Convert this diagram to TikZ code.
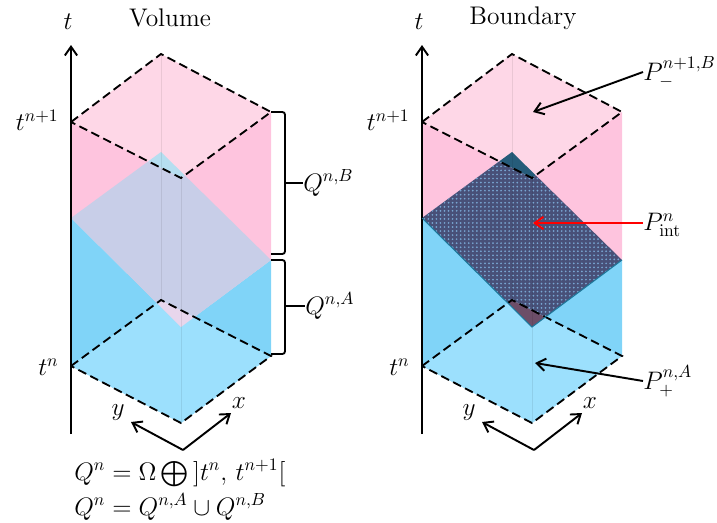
\documentclass[tikz,border=0pt]{standalone}
\usepackage{amsmath}
\usetikzlibrary{positioning,arrows.meta,patterns.meta}
\definecolor{PinkTop}{RGB}{254,215,231}
\definecolor{PinkSide}{RGB}{254,196,222}
\definecolor{BlueSide}{RGB}{128,212,248}
\definecolor{BlueBot}{RGB}{156,224,253}
\definecolor{Lav}{RGB}{200,206,232}
\definecolor{Dark}{RGB}{72,80,120}
\definecolor{Dot}{RGB}{120,165,210}
\definecolor{EdgeTeal}{RGB}{30,120,155}
\definecolor{TipTopL}{RGB}{182,222,240}
\definecolor{TipBotL}{RGB}{232,214,236}
\definecolor{TipTopR}{RGB}{38,92,122}
\definecolor{TipBotR}{RGB}{108,78,104}
\begin{document}
\begin{tikzpicture}[x=.02cm,y=-.02cm,
 ax/.style={-{Straight Barb[length=5pt,width=7pt]},line width=1.1pt},
 dd/.style={dash pattern=on 5pt off 2.6pt,line width=1.05pt},
 v/.style={line width=.3pt,black,opacity=.08},
 brk/.style={line width=1.05pt,rounded corners=1.5pt},
 lab/.style={inner sep=0pt,font=\fontsize{14.5}{16}\selectfont},
 midL/.style={fill=Lav},
 midR/.style={fill=Dark,postaction={pattern={Dots[distance=2.3pt,radius=.55pt]},pattern color=Dot}},
 tipaL/.style={fill=TipTopL},
 tipbL/.style={fill=TipBotL},
 tipaR/.style={fill=TipTopR},
 tipbR/.style={fill=TipBotR}]
\useasboundingbox (0,0) rectangle (717,522);
\foreach \p/\dx in {L/0,R/351}{
\begin{scope}[shift={(\dx,0)}]
\coordinate (\p tl) at (71,122);\coordinate (\p tb) at (161,54);\coordinate (\p tr) at (271,112);\coordinate (\p tf) at (181,178);
\coordinate (\p ml) at (71,218);\coordinate (\p mb) at (161,152);\coordinate (\p mr) at (271,260);\coordinate (\p mf) at (181,327);
\coordinate (\p bl) at (71,366);\coordinate (\p bb) at (161,300);\coordinate (\p br) at (271,356);\coordinate (\p bf) at (181,423);
\coordinate (\p ay) at (71,45);\coordinate (\p az) at (71,434);
\coordinate (\p c) at (183,450);\coordinate (\p cy) at (131,422);\coordinate (\p cx) at (231,413);
\fill[PinkSide] (\p tl)--(\p tf)--(\p tr)--(\p mr)--(\p mf)--(\p ml)--cycle;
\fill[BlueSide] (\p ml)--(\p mf)--(\p mr)--(\p br)--(\p bf)--(\p bl)--cycle;
\path[mid\p] (\p ml)--(\p mb)--(\p mr)--(\p mf)--cycle;
\fill[PinkTop] (\p tl)--(\p tb)--(\p tr)--(\p tf)--cycle;
\fill[BlueBot] (\p bl)--(\p bb)--(\p br)--(\p bf)--cycle;
\begin{scope}
\clip (\p tl)--(\p tb)--(\p tr)--(\p tf)--cycle;
\path[tipa\p] (\p ml)--(\p mb)--(\p mr)--(\p mf)--cycle;
\end{scope}
\begin{scope}
\clip (\p bl)--(\p bb)--(\p br)--(\p bf)--cycle;
\path[tipb\p] (\p ml)--(\p mb)--(\p mr)--(\p mf)--cycle;
\end{scope}
\draw[v] (\p tb)--(\p bb);\draw[v] (\p tf)--(\p bf);
\draw[dd] (\p tl)--(\p tb)--(\p tr)--(\p tf)--cycle;
\draw[dd] (\p bl)--(\p bb)--(\p br)--(\p bf)--cycle;
\draw[ax] (\p az)--(\p ay);
\draw[ax] (\p c)--(\p cy);\draw[ax] (\p c)--(\p cx);
\node[lab] (\p t) at (68,22) {$t$};
\node[lab] (\p y) at (118,413) {$y$};
\node[lab] (\p x) at (239,403) {$x$};
\node[lab,anchor=east] (\p tnp) at (59,120) {$t^{n+1}$};
\node[lab,anchor=east] (\p tn) at (59,367) {$t^{n}$};
\end{scope}}
\draw[EdgeTeal,line width=.6pt] (Rml)--(Rmf)--(Rmr);
% titles
\node[lab] (vol) at (170,18) {Volume};
\node[lab] (bnd) at (523,18) {Boundary};
% brackets
\coordinate (ba1) at (271,112);\coordinate (ba2) at (285,112);\coordinate (ba3) at (285,254);\coordinate (ba4) at (271,254);\coordinate (bm) at (285,183);
\coordinate (aa1) at (271,260);\coordinate (aa2) at (285,260);\coordinate (aa3) at (285,354);\coordinate (aa4) at (271,354);\coordinate (am) at (285,306);
\draw[brk] (ba1)--(ba2)--(ba3)--(ba4);
\draw[brk] (aa1)--(aa2)--(aa3)--(aa4);
\node[lab,anchor=west] (qb) at (303,183) {$Q^{n,B}$};
\node[lab,anchor=west] (qa) at (305,306) {$Q^{n,A}$};
\draw[brk] (bm)--(qb);\draw[brk] (am)--(qa);
% boundary labels
\node[lab,anchor=west] (pb) at (643,72) {$P_{-}^{n+1,B}$};
\node[lab,anchor=west] (pi) at (643,225) {$P_{\mathrm{int}}^{n}$};
\node[lab,anchor=west] (pa) at (643,381) {$P_{+}^{n,A}$};
\coordinate (pbe) at (533,112);\coordinate (pie) at (533,223);\coordinate (pae) at (535,363);
\draw[ax] (pb.west)--(pbe);
\draw[ax,red] (pi.west |- pie)--(pie);
\draw[ax] (pa.west)--(pae);
% equations
\node[lab,anchor=west] (e1) at (74,473) {$Q^{n}=\Omega\bigoplus\,]t^{n},\,t^{n+1}[$};
\node[lab,anchor=west] (e2) at (74,507) {$Q^{n}=Q^{n,A}\cup Q^{n,B}$};
\end{tikzpicture}
\end{document}
